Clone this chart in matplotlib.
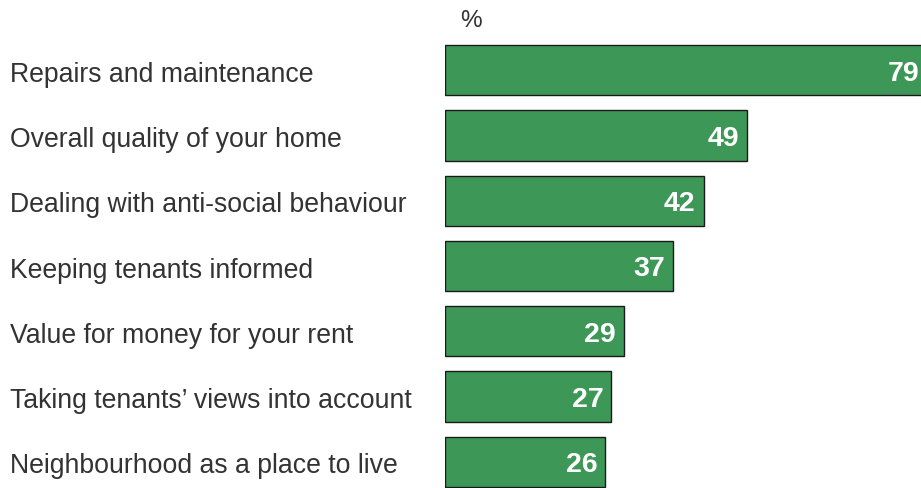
import matplotlib
matplotlib.use("Agg")
import matplotlib.pyplot as plt
import matplotlib.transforms as mtransforms

categories = [
    "Repairs and maintenance",
    "Overall quality of your home",
    "Dealing with anti-social behaviour",
    "Keeping tenants informed",
    "Value for money for your rent",
    "Taking tenants\u2019 views into account",
    "Neighbourhood as a place to live",
]
values = [79, 49, 42, 37, 29, 27, 26]
unit_label = "%"

plt.rcParams["font.family"] = ["Liberation Sans", "DejaVu Sans"]

W, H = 921, 488
PT = 72 / 100  # points per pixel at dpi 100
fig = plt.figure(figsize=(W / 100, H / 100), dpi=100)
left_px, right_px = 445.3, 921
top_px, bottom_px = 37.5, 494.5
ax = fig.add_axes([left_px / W, 1 - bottom_px / H,
                   (right_px - left_px) / W, (bottom_px - top_px) / H])

ypos = list(range(len(values)))
ax.barh(ypos, values, height=0.77, color="#3d9757", edgecolor="#1a1a1a",
        linewidth=1.0)
xmax = (right_px - left_px) / 6.15
ax.set_xlim(0, xmax)
ax.set_ylim(len(values) - 0.5, -0.5)
ax.axis("off")

# value labels inside the bar ends; a bar running past the axis edge
# gets its label pulled back inside the canvas
for y, v in zip(ypos, values):
    if v <= xmax:
        anchor, pad = v, 8
    else:
        anchor, pad = xmax, 2
    ax.annotate(str(v), xy=(anchor, y), xytext=(-pad * PT, -10.5 * PT),
                textcoords="offset points", ha="right", va="baseline",
                color="white", fontsize=20.5, fontweight="bold",
                annotation_clip=False, clip_on=False)

# category names, left aligned at the figure edge
trans = mtransforms.blended_transform_factory(fig.transFigure, ax.transData)
for y, c in zip(ypos, categories):
    ax.annotate(c, xy=(10 / W, y), xycoords=trans, xytext=(0, -11.5 * PT),
                textcoords="offset points", ha="left", va="baseline",
                fontsize=19.2, color="#333333", annotation_clip=False)

fig.text(471 / W, 1 - 26.7 / H, unit_label, ha="center", va="baseline",
         fontsize=17.5, color="#333333")

fig.savefig("out.png", dpi=100)
